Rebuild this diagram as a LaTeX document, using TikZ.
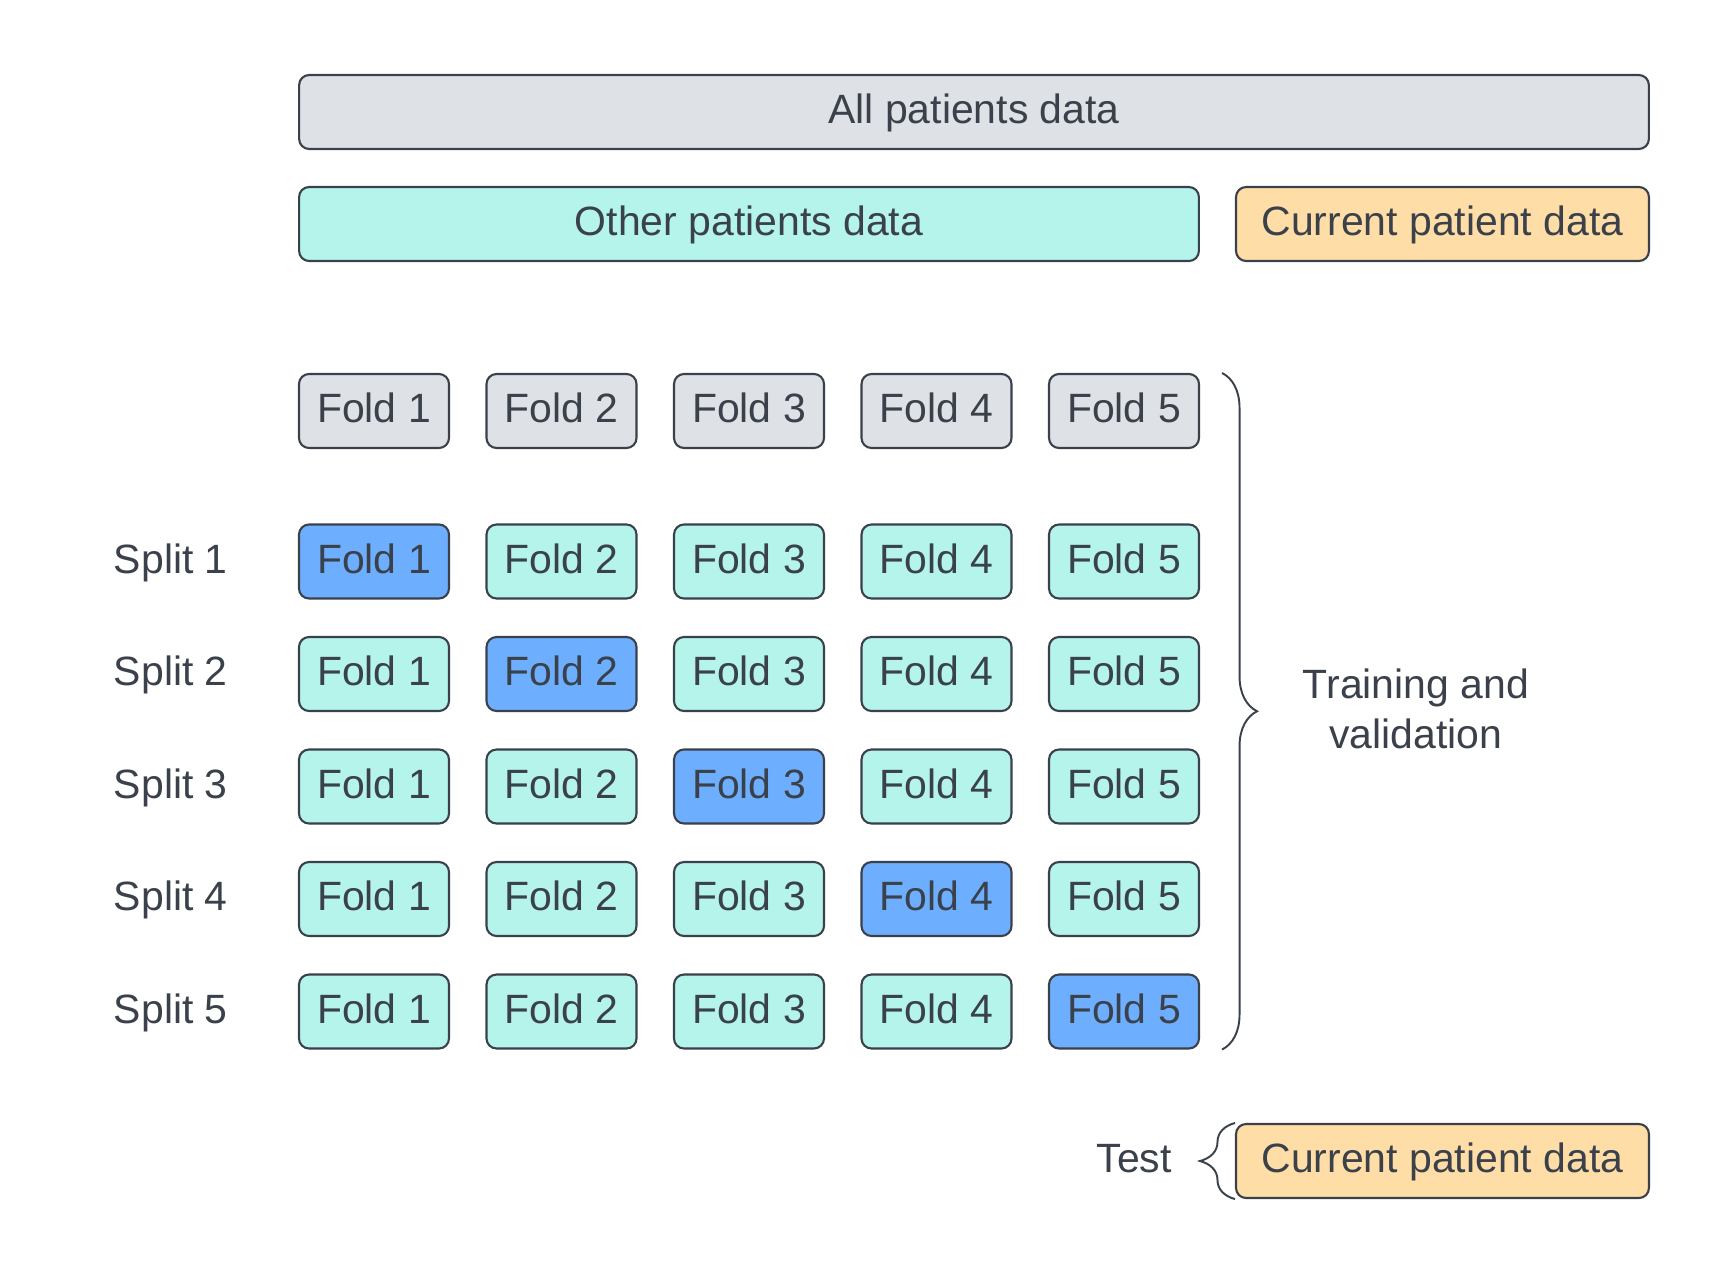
\documentclass[tikz,border=0pt]{standalone}
\usepackage{fontspec}
\setmainfont{Liberation Sans}
\usetikzlibrary{
  positioning,
  decorations.pathreplacing
}
\definecolor{inkgray}{HTML}{3A414A}
\definecolor{allfill}{HTML}{DEE1E6}
\definecolor{otherfill}{HTML}{B4F4EA}
\definecolor{valfill}{HTML}{6DAFFE}
\definecolor{curfill}{HTML}{FFDDA6}
\tikzset{
  every node/.style={text=inkgray, font=\fontsize{23.3}{28.5}\selectfont},
  databox/.style={draw=inkgray, line width=1.2pt, rounded corners=0.2cm,
    minimum height=1.48cm, inner sep=0pt, text depth=0.13cm},
  fold/.style={databox, minimum width=3cm},
  brc/.style={draw=inkgray, line width=1.1pt, decorate,
    decoration={brace, amplitude=0.7cm}}
}

\begin{document}
\begin{tikzpicture}[x=0.02cm, y=-0.02cm]
    \useasboundingbox (0,0) rectangle (1725,1275);
    % data boxes
    \node[databox, fill=allfill, minimum width=27cm] (all) at (974,112) {All patients data};
    \node[databox, fill=otherfill, minimum width=18cm] (other) at (749,224) {Other patients data};
    \node[databox, fill=curfill, minimum width=8.26cm] (cur1) at (1442.5,224) {Current patient data};
    % folds
    \foreach \c in {1,...,5} {
      \node[fold, fill=allfill] (f0\c) at ({374+187.5*(\c-1)},411) {Fold \c};
    }
    \foreach \r in {1,...,5} {
      \foreach \c in {1,...,5} {
        \def\fc{otherfill}
        \ifnum\r=\c \def\fc{valfill}\fi
        \node[fold, fill=\fc] (f\r\c) at ({374+187.5*(\c-1)},{561.5+112.5*(\r-1)}) {Fold \c};
      }
      \node[base left=1.28cm of f\r1] (s\r) {Split \r};
    }
    % training and validation
    \draw[brc] ([xshift=0.44cm]f05.north east) -- ([xshift=0.44cm]f55.south east);
    \node[align=center] (train) at (1416,709) {Training and\\validation};
    % test
    \node[databox, fill=curfill, minimum width=8.26cm] (cur2) at (1442.5,1161) {Current patient data};
    \draw[brc] (cur2.south west) -- (cur2.north west);
    \node[base left=1.14cm of cur2] (test) {Test};
\end{tikzpicture}
\end{document}
